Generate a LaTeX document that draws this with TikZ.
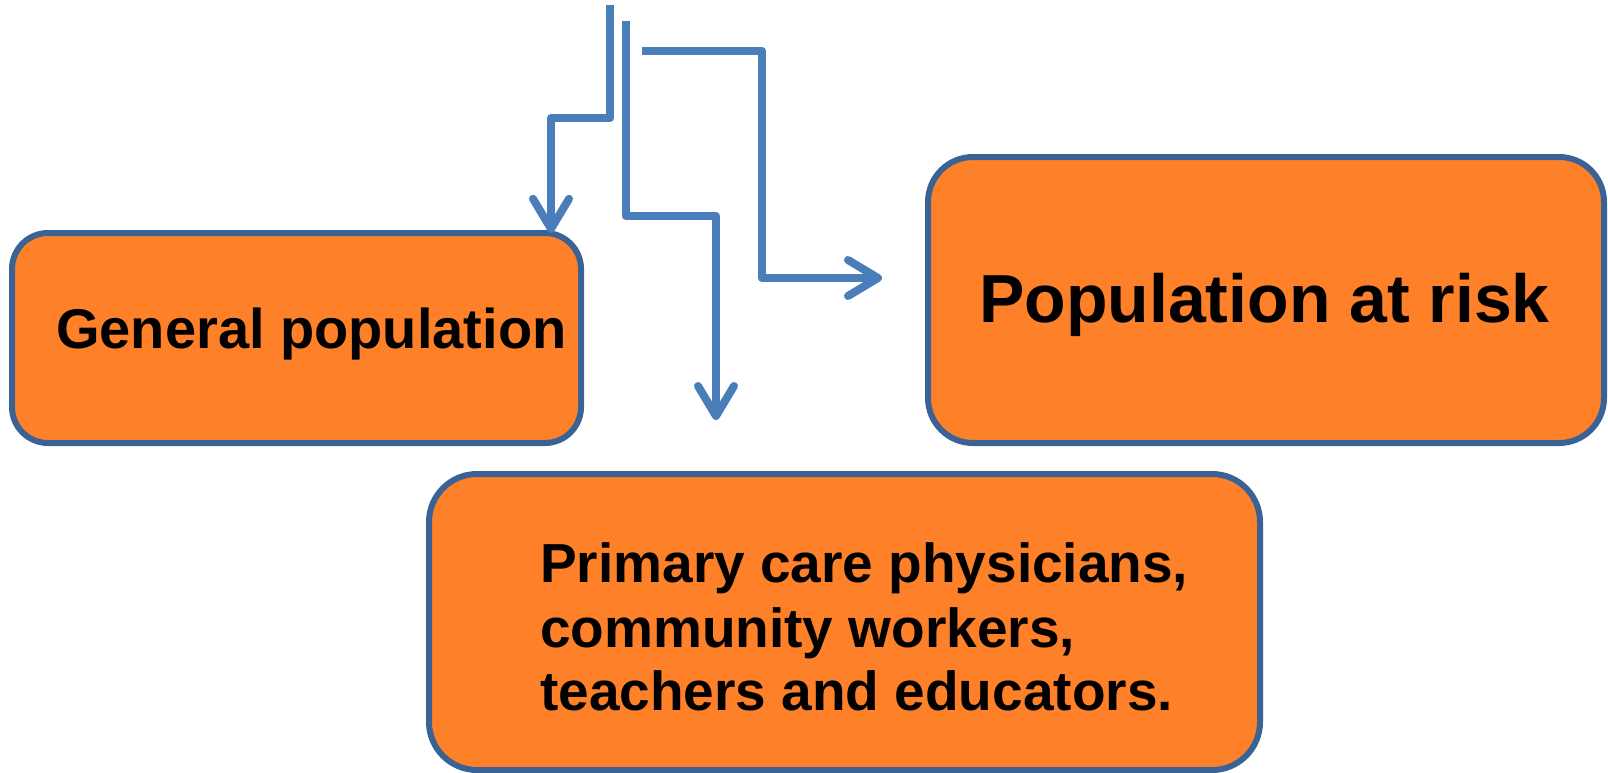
\documentclass[tikz,border=0pt]{standalone}
\usepackage{fontspec}
\setmainfont{Liberation Sans}
\usetikzlibrary{arrows.meta}
\definecolor{boxfill}{RGB}{254,128,41}
\definecolor{boxline}{RGB}{59,98,148}
\definecolor{arrowblue}{RGB}{74,126,187}
\tikzset{
  orangebox/.style={draw=boxline, line width=6pt, fill=boxfill, rounded corners=#1},
  conn/.style={draw=arrowblue, line width=8pt, line join=round},
  connarrow/.style={conn, -{Straight Barb[length=30pt,width=36pt,round]}},
  label/.style={inner sep=0pt, anchor=base west, text=black, font=\bfseries},
}
\begin{document}
\begin{tikzpicture}[x=1pt,y=-1pt]
\useasboundingbox (0,0) rectangle (1608,773);
% boxes
\draw[orangebox=36pt] (12,233) rectangle (581,443);
\node[inner sep=0pt, minimum width=569pt, minimum height=210pt] (gp) at (296.5,338) {};
\draw[orangebox=45pt] (928,157) rectangle (1604,443);
\node[inner sep=0pt, minimum width=676pt, minimum height=286pt] (par) at (1266,300) {};
\draw[orangebox=48pt] (429,474) rectangle (1260,770);
\node[inner sep=0pt, minimum width=831pt, minimum height=296pt] (pcp) at (844.5,622) {};
% texts
\node[label, font=\bfseries\fontsize{56}{64}\selectfont] (gpt) at (56,348) {General population};
\node[label, font=\bfseries\fontsize{68}{78}\selectfont] (part) at (979,322) {Population at risk};
\node[label, font=\bfseries\fontsize{55}{64}\selectfont] (pcp1) at (540,582) {Primary care physicians,};
\node[label, font=\bfseries\fontsize{55}{64}\selectfont] (pcp2) at (540,647) {community workers,};
\node[label, font=\bfseries\fontsize{55}{64}\selectfont] (pcp3) at (540,710) {teachers and educators.};
% connector coordinates
\coordinate (a0) at (610,5);
\coordinate (a1) at (610,118);
\coordinate (a2) at (551,118);
\coordinate (b0) at (625.5,21);
\coordinate (b1) at (625.5,216);
\coordinate (b2) at (716,216);
\coordinate (bend) at (716,420);
\coordinate (c0) at (642,51);
\coordinate (c1) at (762,51);
\coordinate (c2) at (762,278);
\coordinate (cend) at (882,278);
% connectors
\path[connarrow] (a0) -- (a1) -- (a2) -- (a2 |- gp.north) ;
\path[connarrow] (b0) -- (b1) -- (b2) -- (bend);
\path[connarrow] (c0) -- (c1) -- (c2) -- (cend);
\end{tikzpicture}
\end{document}
